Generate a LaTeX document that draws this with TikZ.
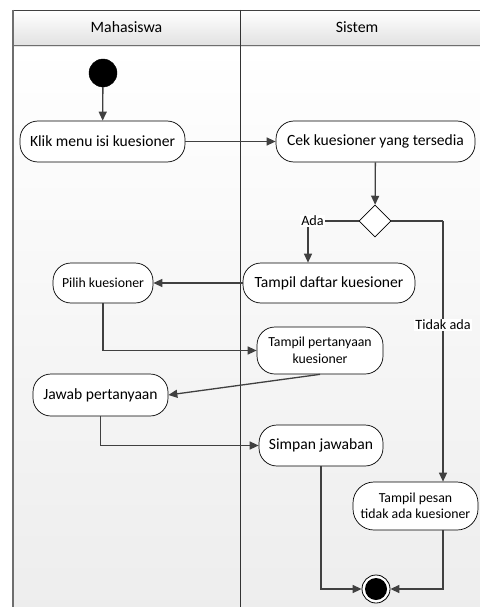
\documentclass[tikz,border=0pt]{standalone}
\usepackage{fontspec}
\setmainfont{Carlito}
\usetikzlibrary{arrows.meta,shapes.geometric,calc}
\definecolor{linegray}{HTML}{404040}
\definecolor{framegray}{HTML}{6E6E6E}
\definecolor{headbot}{HTML}{E2E2E2}
\definecolor{bodybot}{HTML}{EDEDED}
\tikzset{
  act/.style={draw=black, fill=white, line width=0.7pt, rounded corners=18pt,
    align=center, inner sep=0pt, font=\fontsize{15.6}{17}\selectfont},
  actsmall/.style={act, font=\fontsize{13.8}{16.5}\selectfont},
  flow/.style={draw=linegray, line width=1.3pt,
    -{Triangle[length=9pt,width=8pt]}},
  plain/.style={draw=linegray, line width=1.3pt},
  guard/.style={fill=white, inner sep=1pt, font=\fontsize{14.2}{16}\selectfont},
  lanehead/.style={font=\fontsize{15.8}{17}\selectfont},
}
\begin{document}
\begin{tikzpicture}[x=1pt,y=-1pt]
\useasboundingbox (0,0) rectangle (479,607);

% swimlane frame
\shade[top color=white, bottom color=bodybot] (13,45) rectangle (490,615);
\shade[top color=white, bottom color=headbot] (13,10) rectangle (490,45);
\draw[black!75, line width=0.8pt] (13,10) -- (490,10);
\draw[framegray, line width=0.8pt] (13,45) -- (490,45);
\draw[black!10, line width=1pt] (13,46.5) -- (490,46.5);
\draw[framegray, line width=1.6pt] (13,10) -- (13,615);
\draw[black!80, line width=0.6pt] (240,10) -- (240,615);
\node[lanehead] (laneA) at (126.5,27.5) {Mahasiswa};
\node[lanehead] (laneB) at (357,27.5) {Sistem};

% activity nodes
\node[circle, fill=black, draw=black, minimum size=28pt, inner sep=0pt] (start) at (103,73) {};
\node[act, minimum width=165pt, minimum height=41pt] (klik) at (102.5,141.5) {Klik menu isi kuesioner};
\node[act, minimum width=199pt, minimum height=41pt] (cek) at (375.5,141.5) {Cek kuesioner yang tersedia};
\node[diamond, draw=black, fill=white, line width=0.7pt, minimum width=32pt, minimum height=32pt, inner sep=0pt] (dec) at (375,221) {};
\node[act, minimum width=172pt, minimum height=40pt] (daftar) at (329,283) {Tampil daftar kuesioner};
\node[actsmall, minimum width=100pt, minimum height=40pt] (pilih) at (103,283) {Pilih kuesioner};
\node[actsmall, minimum width=126pt, minimum height=47pt] (pert) at (320,350.5) {Tampil pertanyaan\\kuesioner};
\node[act, minimum width=135pt, minimum height=42pt] (jawab) at (100.5,395) {Jawab pertanyaan};
\node[act, minimum width=124pt, minimum height=41pt] (simpan) at (321,445.5) {Simpan jawaban};
\node[actsmall, minimum width=125pt, minimum height=48pt, rounded corners=21pt] (pesan) at (415.5,506) {Tampil pesan\\tidak ada kuesioner};
\node[circle, draw=black, fill=white, line width=0.8pt, minimum size=28pt, inner sep=0pt] (end) at (376,589) {};
\node[circle, fill=black, minimum size=22pt, inner sep=0pt] (endin) at (end) {};

% routing points
\coordinate (adaturn) at (308,221);
\coordinate (noturn) at (443,221);

% control flow
\draw[flow] (start) -- (klik);
\draw[flow] (klik) -- (cek);
\draw[flow] (cek) -- (dec);
\draw[plain] (dec.west) -- (adaturn);
\draw[flow] (adaturn) -- (adaturn |- daftar.north);
\node[guard] (ada) at (312.5,221) {Ada};
\draw[plain] (dec.east) -- (noturn);
\draw[flow] (noturn) -- (noturn |- pesan.north);
\node[guard] (tidak) at (443,325) {Tidak ada};
\draw[flow] (daftar) -- (pilih);
\draw[flow] (pilih.south) |- (pert.west);
\draw[flow] (pert.south) -- (jawab.east);
\draw[flow] (jawab.south) |- (simpan.west);
\draw[flow] (simpan.south) |- (end.west);
\draw[flow] (noturn |- pesan.south) |- (end.east);
\end{tikzpicture}
\end{document}
